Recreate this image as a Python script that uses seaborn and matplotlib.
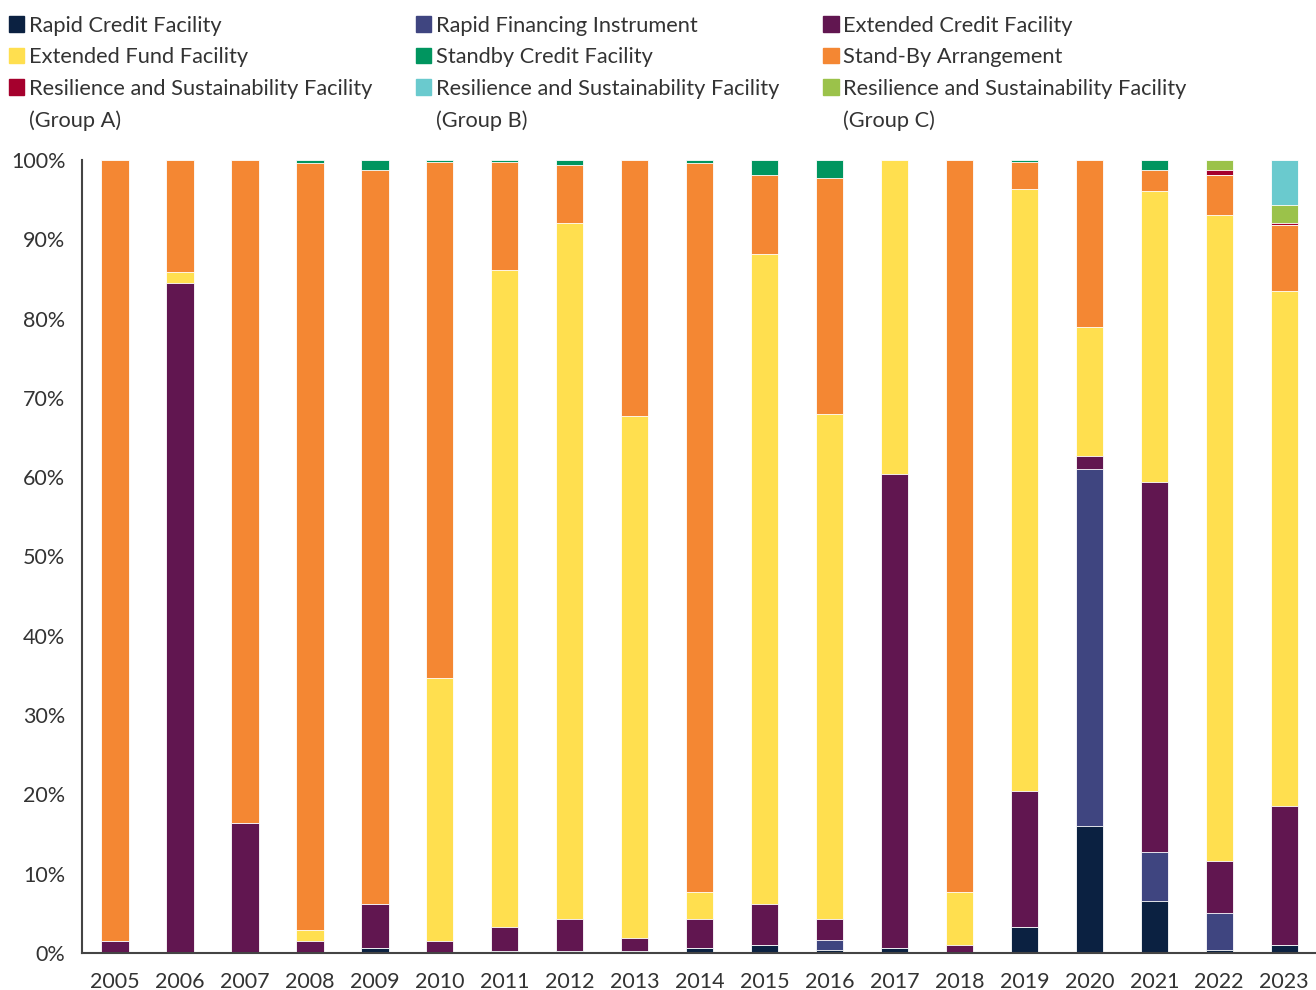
import matplotlib
matplotlib.use("Agg")
import matplotlib.pyplot as plt
from matplotlib.patches import Patch
import numpy as np
import pandas as pd
import seaborn as sns

years = [str(y) for y in range(2005, 2024)]

rcf = [0, 0, 0, 0, 0.6, 0, 0.3, 0.3, 0.3, 0.6, 1.0, 0.4, 0.6, 0, 3.3, 16.0, 6.6, 0.4, 1.0]
rfi = [0, 0, 0, 0, 0, 0, 0, 0, 0, 0, 0, 1.3, 0, 0, 0, 45.0, 6.1, 4.6, 0]
ecf = [1.5, 84.5, 16.4, 1.5, 5.6, 1.5, 3.0, 4.0, 1.6, 3.7, 5.2, 2.6, 59.8, 1.0, 17.1, 1.7, 46.7, 6.6, 17.5]
eff = [0, 1.4, 0, 1.4, 0, 33.2, 82.8, 87.8, 65.8, 3.4, 81.9, 63.7, 39.6, 6.7, 76.0, 16.2, 36.7, 81.5, 65.0]
sba = [98.5, 14.1, 83.6, 96.7, 92.5, 65.0, 13.6, 7.3, 32.3, 91.9, 10.0, 29.7, 0, 92.3, 3.3, 21.1, 2.6, 5.0, 8.3]
scf = [0, 0, 0, 0.4, 1.3, 0.3, 0.3, 0.6, 0, 0.4, 1.9, 2.3, 0, 0, 0.3, 0, 1.3, 0, 0]
rsf_a = [0] * 17 + [0.6, 0.3]
rsf_c = [0] * 17 + [1.3, 2.2]
rsf_b = [0] * 18 + [5.7]

y_ticks = list(range(0, 101, 10))
y_tick_labels = [f"{v}%" for v in y_ticks]

# stacking order bottom -> top
series = [
    ("Rapid Credit Facility", rcf, "#0B2141"),
    ("Rapid Financing Instrument", rfi, "#3F4580"),
    ("Extended Credit Facility", ecf, "#611650"),
    ("Extended Fund Facility", eff, "#FFDF4F"),
    ("Stand-By Arrangement", sba, "#F48733"),
    ("Standby Credit Facility", scf, "#00955F"),
    ("Resilience and Sustainability Facility (Group A)", rsf_a, "#A5002D"),
    ("Resilience and Sustainability Facility (Group C)", rsf_c, "#9BC24A"),
    ("Resilience and Sustainability Facility (Group B)", rsf_b, "#6ACACE"),
]

sns.set_theme(style="white")
plt.rcParams["font.family"] = ["Lato", "DejaVu Sans"]

fig = plt.figure(figsize=(13.16, 9.9), dpi=100)
ax = fig.add_axes([82 / 1316, 37 / 990, 1 - 82 / 1316, 793 / 990])

cum = np.cumsum(np.array([s[1] for s in series], dtype=float), axis=0)
for i in range(len(series) - 1, -1, -1):
    df = pd.DataFrame({"year": years, "value": cum[i]})
    sns.barplot(data=df, x="year", y="value", color=series[i][2], saturation=1,
                width=0.42, edgecolor="white", linewidth=0.6, ax=ax, errorbar=None)

ax.set_xlim(-0.51, 18.49)
ax.set_ylim(0, 100)
ax.set_yticks(y_ticks)
ax.set_yticklabels(y_tick_labels)
ax.set_xlabel("")
ax.set_ylabel("")
ax.tick_params(axis="both", length=0, labelsize=15.5, colors="#333333")
ax.tick_params(axis="y", pad=12)
ax.tick_params(axis="x", pad=14)
for side in ["top", "right"]:
    ax.spines[side].set_visible(False)
for side in ["left", "bottom"]:
    ax.spines[side].set_color("#444444")
    ax.spines[side].set_linewidth(1.5)

colors = {s[0]: s[2] for s in series}
blank = Patch(facecolor="none", edgecolor="none")
handles = [
    Patch(color=colors["Rapid Credit Facility"]),
    Patch(color=colors["Extended Fund Facility"]),
    Patch(color=colors["Resilience and Sustainability Facility (Group A)"]),
    blank,
    Patch(color=colors["Rapid Financing Instrument"]),
    Patch(color=colors["Standby Credit Facility"]),
    Patch(color=colors["Resilience and Sustainability Facility (Group B)"]),
    blank,
    Patch(color=colors["Extended Credit Facility"]),
    Patch(color=colors["Stand-By Arrangement"]),
    Patch(color=colors["Resilience and Sustainability Facility (Group C)"]),
    blank,
]
labels = [
    "Rapid Credit Facility", "Extended Fund Facility", "Resilience and Sustainability Facility", "(Group A)",
    "Rapid Financing Instrument", "Standby Credit Facility", "Resilience and Sustainability Facility", "(Group B)",
    "Extended Credit Facility", "Stand-By Arrangement", "Resilience and Sustainability Facility", "(Group C)",
]
leg = fig.legend(handles, labels, ncol=3, loc="upper left", bbox_to_anchor=(0.0, 1 - 7 / 990),
                 frameon=False, fontsize=15.7, handlelength=0.72, handleheight=0.72,
                 handletextpad=0.2, columnspacing=2.0, labelspacing=0.53,
                 borderpad=0.4, borderaxespad=0.0)
for t in leg.get_texts():
    t.set_color("#333333")

fig.savefig("out.png", dpi=100)
